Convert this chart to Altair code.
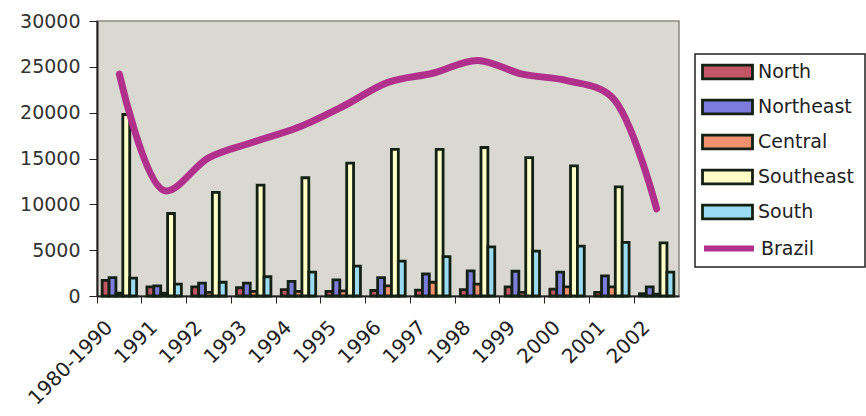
import altair as alt
import pandas as pd

# Periods on the x axis
periods = ["1980-1990", "1991", "1992", "1993", "1994", "1995", "1996",
           "1997", "1998", "1999", "2000", "2001", "2002"]

regions = ["North", "Northeast", "Central", "Southeast", "South"]

north = [1700, 1000, 1000, 900, 700, 500, 600, 650, 700, 1000, 750, 400, 250]
northeast = [2000, 1100, 1400, 1400, 1600, 1750, 2000, 2400, 2750, 2700, 2600, 2200, 1000]
central = [300, 300, 400, 500, 500, 550, 1100, 1500, 1300, 400, 1000, 1000, 200]
southeast = [19800, 9000, 11300, 12100, 12900, 14500, 16000, 16000, 16200, 15100, 14200, 11900, 5800]
south = [1950, 1300, 1500, 2100, 2600, 3250, 3800, 4300, 5350, 4900, 5450, 5850, 2600]
brazil = [24200, 11500, 15100, 16800, 18400, 20700, 23300, 24300, 25700, 24200, 23500, 21700, 9500]

region_colors = ["#c25566", "#7c7cdc", "#f0906e", "#ffffc8", "#9cdcf2"]
brazil_color = "#b0308c"

series = [north, northeast, central, southeast, south]
bars_df = pd.DataFrame(
    [{"period": p, "region": r, "value": vals[i]}
     for r, vals in zip(regions, series) for i, p in enumerate(periods)]
)
line_df = pd.DataFrame({"period": periods, "series": "Brazil", "value": brazil})

FONT = "DejaVu Sans"

x_enc = alt.X(
    "period:N", sort=periods,
    scale=alt.Scale(paddingInner=0, paddingOuter=0),
    axis=alt.Axis(title=None, labelAngle=-45, bandPosition=0, labelFont=FONT,
                  labelFontSize=20, labelColor="#222", tickColor="#222",
                  domainColor="#222", domainWidth=2, tickSize=7,
                  labelPadding=14, labelOffset=-17),
)
y_enc = alt.Y(
    "value:Q",
    scale=alt.Scale(domain=[0, 30000]),
    axis=alt.Axis(title=None, values=list(range(0, 30001, 5000)), format="d",
                  grid=False, labelFont=FONT, labelFontSize=19,
                  labelColor="#333", tickColor="#222", domainColor="#222",
                  domainWidth=2, tickSize=8, labelPadding=9),
)

bars = alt.Chart(bars_df).mark_bar(stroke="#142014", strokeWidth=2.8).encode(
    x=x_enc,
    xOffset=alt.XOffset("region:N", sort=regions,
                        scale=alt.Scale(paddingInner=0, paddingOuter=0.75)),
    y=y_enc,
    color=alt.Color(
        "region:N", sort=regions,
        scale=alt.Scale(domain=regions, range=region_colors),
        legend=alt.Legend(
            title=None, orient="none", legendX=604, legendY=37,
            symbolType="M-1,-0.55H3V0.55H-1Z", symbolSize=625,
            symbolStrokeColor="#142014", symbolStrokeWidth=2.8,
            labelOffset=29, labelFont=FONT, labelFontSize=19,
            labelColor="#222", rowPadding=8, padding=0,
        ),
    ),
)

line = alt.Chart(line_df).mark_line(
    interpolate="catmull-rom", strokeWidth=7, strokeCap="round"
).encode(
    x=x_enc,
    y=y_enc,
    color=alt.Color(
        "series:N",
        scale=alt.Scale(domain=["Brazil"], range=[brazil_color]),
        legend=alt.Legend(
            title=None, orient="none", legendX=604, legendY=212,
            symbolType="M-1,0H3", symbolSize=625, symbolStrokeWidth=6,
            labelOffset=29, labelFont=FONT, labelFontSize=19,
            labelColor="#222", padding=0,
        ),
    ),
)

# Box around the legend entries
frame = alt.Chart(pd.DataFrame({"k": [0]})).mark_rect(
    fillOpacity=0, stroke="#222", strokeWidth=1.5
).encode(
    x=alt.value(598), x2=alt.value(768), y=alt.value(33), y2=alt.value(246)
)

chart = (
    alt.layer(bars, line, frame)
    .resolve_scale(color="independent")
    .properties(width=582, height=275,
                padding={"left": 19, "top": 12, "right": 0, "bottom": 0},
                background="#ffffff")
    .configure_view(fill="#d9d9d2", stroke="#8a8a80", strokeWidth=1.5)
)

chart.save("out.html", embed_options={"renderer": "svg", "actions": False})
